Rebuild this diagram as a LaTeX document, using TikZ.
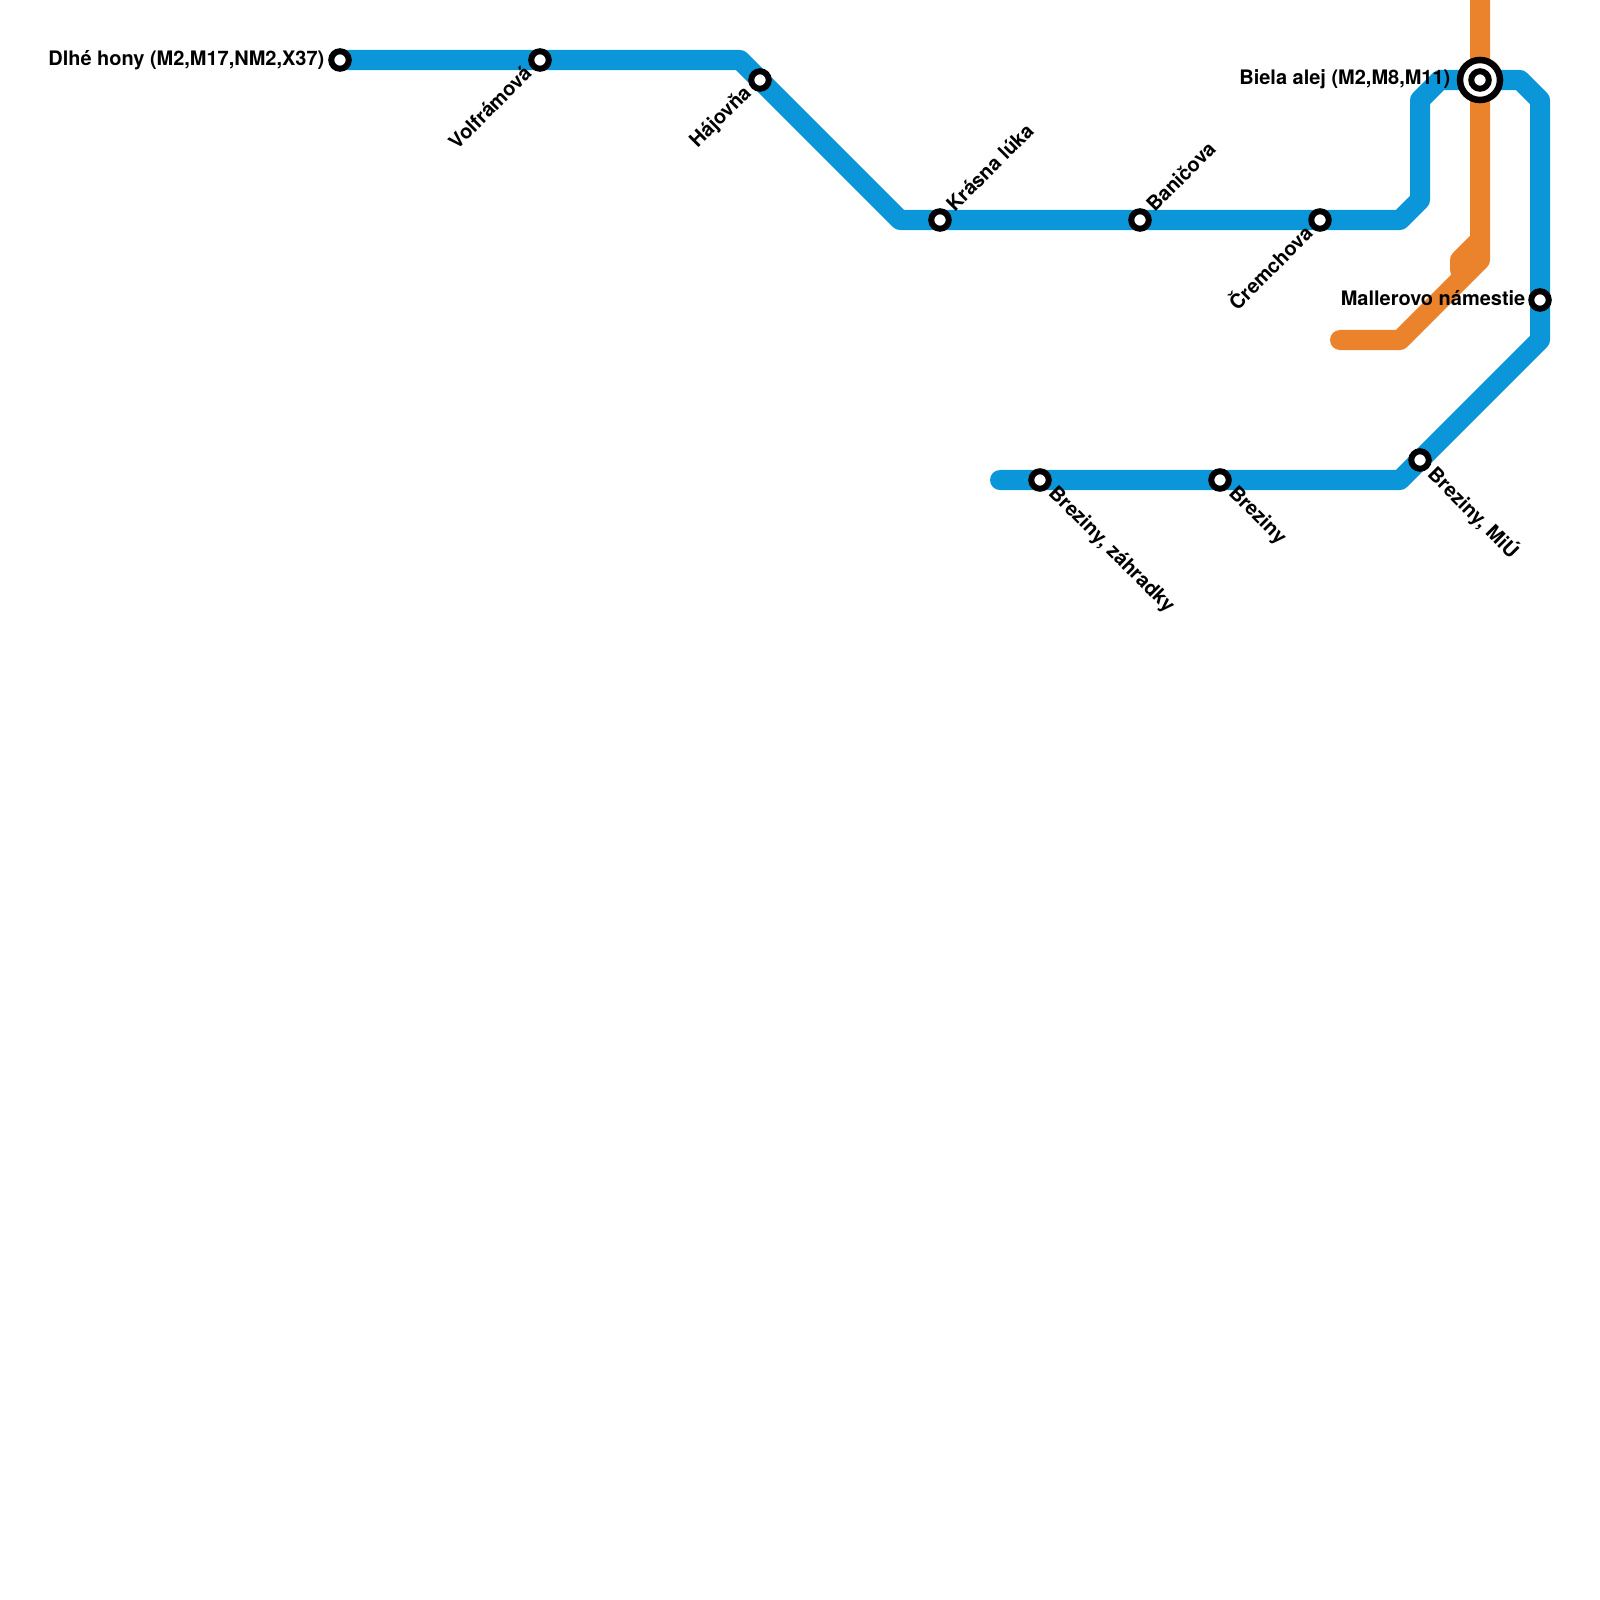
\documentclass[tikz,border=0pt]{standalone}
\usepackage{fontspec}
\setmainfont{TeX Gyre Heros}
\usetikzlibrary{backgrounds}
\definecolor{lineblue}{HTML}{0A96D8}
\definecolor{lineorange}{HTML}{EB832C}
\tikzstyle{stop} = [
    circle,
    minimum size=0.175cm,
    inner sep=0pt,
    line width=0.06cm,
    fill=white,
    draw=black
]
\tikzstyle{hub} = [
    circle,
    minimum size=0.4cm,
    inner sep=0pt,
    line width=0.065cm,
    fill=white,
    draw=black
]
\tikzstyle{stoplabel} = [
    inner sep=0pt,
    font=\fontsize{5.68pt}{6pt}\selectfont\bfseries
]
\tikzstyle{blueline} = [line width=0.2cm, lineblue, line join=round, line cap=round]
\tikzstyle{orangeline} = [line width=0.2cm, lineorange, line join=round, line cap=round]

\begin{document}
\begin{tikzpicture}[x=0.01cm, y=-0.01cm]

\useasboundingbox (0,0) rectangle (1600,1600);

\node (dlhe) [stop] at (340,60) {};

\node (volframova) [stop] at (540,60) {};

\node (hajovna) [stop] at (760,80) {};

\node (krasna) [stop] at (940,220) {};

\node (banicova) [stop] at (1140,220) {};

\node (cremchova) [stop] at (1320,220) {};

\node (biela) [hub] at (1480,80) {};

\node (bielainner) [stop] at (1480,80) {};

\node (mallerovo) [stop] at (1540,300) {};

\node (miu) [stop] at (1420,460) {};

\node (breziny) [stop] at (1220,480) {};

\node (zahradky) [stop] at (1040,480) {};

\node (dlhelabel) [stoplabel, anchor=east] at (325,60) {Dlhé hony (M2,M17,NM2,X37)};

\node (volframovalabel) [stoplabel, anchor=east, rotate=45] at (528,69) {Volfrámová};

\node (hajovnalabel) [stoplabel, anchor=east, rotate=45] at (749,90) {Hájovňa};

\node (krasnalabel) [stoplabel, anchor=west, rotate=45] at (949,208) {Krásna lúka};

\node (banicovalabel) [stoplabel, anchor=west, rotate=45] at (1149,208) {Baničova};

\node (cremchovalabel) [stoplabel, anchor=east, rotate=45] at (1308,228) {Čremchova};

\node (bielalabel) [stoplabel, anchor=east] at (1451,79) {Biela alej (M2,M8,M11)};

\node (mallerovolabel) [stoplabel, anchor=east] at (1526,298) {Mallerovo námestie};

\node (miulabel) [stoplabel, anchor=west, rotate=-45] at (1431,470) {Breziny, MiÚ};

\node (brezinylabel) [stoplabel, anchor=west, rotate=-45] at (1231,490) {Breziny};

\node (zahradkylabel) [stoplabel, anchor=west, rotate=-45] at (1051,490) {Breziny, záhradky};

\coordinate (topend) at (1480,-20);
\coordinate (stubend) at (1460,270);
\coordinate (westend) at (1000,480);
\coordinate (orangeend) at (1340,340);

\begin{scope}[on background layer]
\draw [blueline] (dlhe.center) -- (volframova.center) -- (740,60) -- (hajovna.center) -- (900,220)
    -- (krasna.center) -- (banicova.center) -- (cremchova.center) -- (1400,220) -- (1420,200)
    -- (1420,100) -- (1440,80) -- (biela.center) -- (1520,80) -- (1540,100)
    -- (mallerovo.center) -- (1540,340) -- (miu.center) -- (1400,480)
    -- (breziny.center) -- (zahradky.center) -- (westend);
\draw [orangeline] (topend) -- (biela.center) -- (1480,260) -- (1400,340) -- (orangeend);
\draw [orangeline] (1480,240) -- (1460,260) -- (stubend);
\end{scope}

\end{tikzpicture}
\end{document}
